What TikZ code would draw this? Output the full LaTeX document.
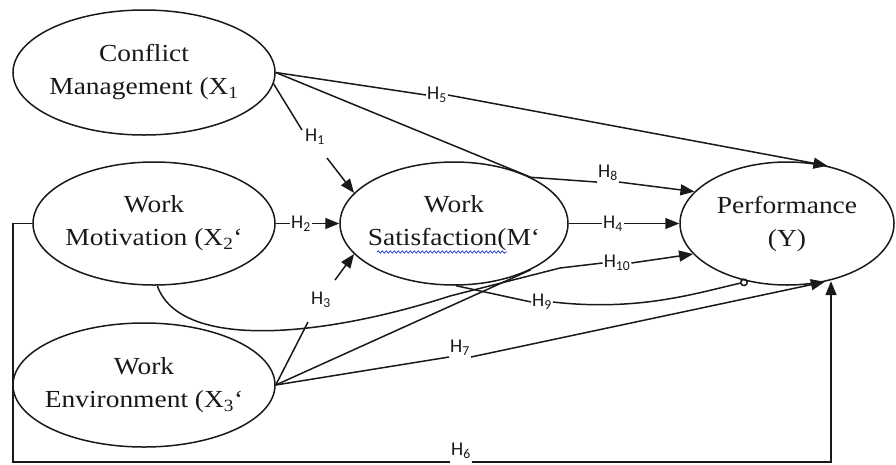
\documentclass[tikz,border=0pt]{standalone}
\usepackage{fontspec}
\setmainfont{Liberation Serif}[FakeStretch=1.12]
\newfontfamily\labfont{Carlito}
\usetikzlibrary{shapes.geometric,arrows.meta,decorations.pathmorphing}
\definecolor{spell}{RGB}{50,70,210}
\definecolor{ink}{RGB}{25,25,25}
\begin{document}
\begin{tikzpicture}[x=1pt,y=-1pt,
  var/.style={draw=ink, ellipse, line width=1.5pt, inner sep=0pt, inner xsep=-30pt,
    align=center, text=ink, font=\fontsize{24.5}{33}\selectfont},
  hl/.style={font=\labfont\fontsize{19.5}{19.5}\selectfont, inner sep=1pt, text=ink},
  ln/.style={line width=1.5pt, draw=ink},
  arr/.style={ln, -{Triangle[length=14pt,width=11pt]}},
]
\useasboundingbox (0,0) rectangle (896,464);

% constructs
\node[var, minimum width=262pt, minimum height=125pt] (x1) at (144,72.5) {Conflict\\Management (X\textsubscript{1}};
\node[var, minimum width=242pt, minimum height=123pt] (x2) at (154,223.5) {Work\\Motivation (X\textsubscript{2}`};
\node[var, minimum width=262pt, minimum height=124pt] (x3) at (144,385) {Work\\Environment (X\textsubscript{3}`};
\node[var, minimum width=228pt, minimum height=123pt] (m) at (454,223.5) {Work\\Satisfaction(M`};
\node[var, minimum width=214pt, minimum height=123pt] (y) at (787,223.5) {Performance\\(Y)};

% spell-check underline
\draw[spell, line width=0.8pt, decorate, decoration={snake, amplitude=1.2pt, segment length=4pt}] (377,252) -- (507,252);

% labels
\node[hl] (h1) at (315,137) {H\textsubscript{1}};
\node[hl] (h2) at (301,223.5) {H\textsubscript{2}};
\node[hl] (h3) at (321,300) {H\textsubscript{3}};
\node[hl] (h4) at (613,223.5) {H\textsubscript{4}};
\node[hl] (h5) at (437,95) {H\textsubscript{5}};
\node[hl] (h6) at (461,451) {H\textsubscript{6}};
\node[hl] (h7) at (460,348) {H\textsubscript{7}};
\node[hl] (h8) at (608,173) {H\textsubscript{8}};
\node[hl] (h9) at (542,302) {H\textsubscript{9}};
\node[hl] (h10) at (617,263) {H\textsubscript{10}};

% helper coordinates
\coordinate (c1a) at (302,130);
\coordinate (c1b) at (327,158);
\coordinate (c3a) at (308,322);
\coordinate (c3b) at (335,280);
\coordinate (c10a) at (450,296);
\coordinate (c10b) at (560,268);
\coordinate (c6a) at (13,223.5);
\coordinate (c6b) at (13,462);
\coordinate (c6c) at (831,462);

% H1
\draw[ln] (x1.-5) -- (c1a);
\draw[arr] (c1b) -- (m.163);
% H2
\draw[ln] (x2.east) -- (x2.east -| h2.west);
\draw[arr] (x2.east -| h2.east) -- (m.west);
% H3
\draw[ln] (x3.east) -- (c3a);
\draw[arr] (c3b) -- (m.-163);
% H4
\draw[ln] (m.east) -- (m.east -| h4.west);
\draw[arr] (m.east -| h4.east) -- (y.west);
% H5
\draw[ln] (x1.east) -- (h5.west);
\draw[arr] (h5.east) -- (y.55);
% H8
\draw[ln] (x1.east) -- (m.31) -- (h8.south west);
\draw[arr] (h8.south east) -- (y.161);
% H7
\draw[ln] (x3.east) -- (h7.south west);
\draw[arr] (h7.south east) -- (y.-57);
% environment to satisfaction
\draw[ln] (x3.east) -- (m.-31);
% H10
\draw[ln] (x2.-87) .. controls (180,350) and (320,338) .. (c10a) -- (c10b) -- (h10.west);
\draw[arr] (h10.east) -- (y.-162);
% H9
\draw[ln] (m.-88) -- (h9.west);
\draw[ln, -{Circle[open,length=8pt,width=8pt]}] (h9.east) .. controls (640,312) and (700,292) .. (y.-124);
% H6
\draw[ln] (x2.west) -- (c6a) -- (c6b) -- (c6b -| h6.west);
\draw[arr] (c6b -| h6.east) -- (c6c) -- (c6c |- y.-55);
\end{tikzpicture}
\end{document}
